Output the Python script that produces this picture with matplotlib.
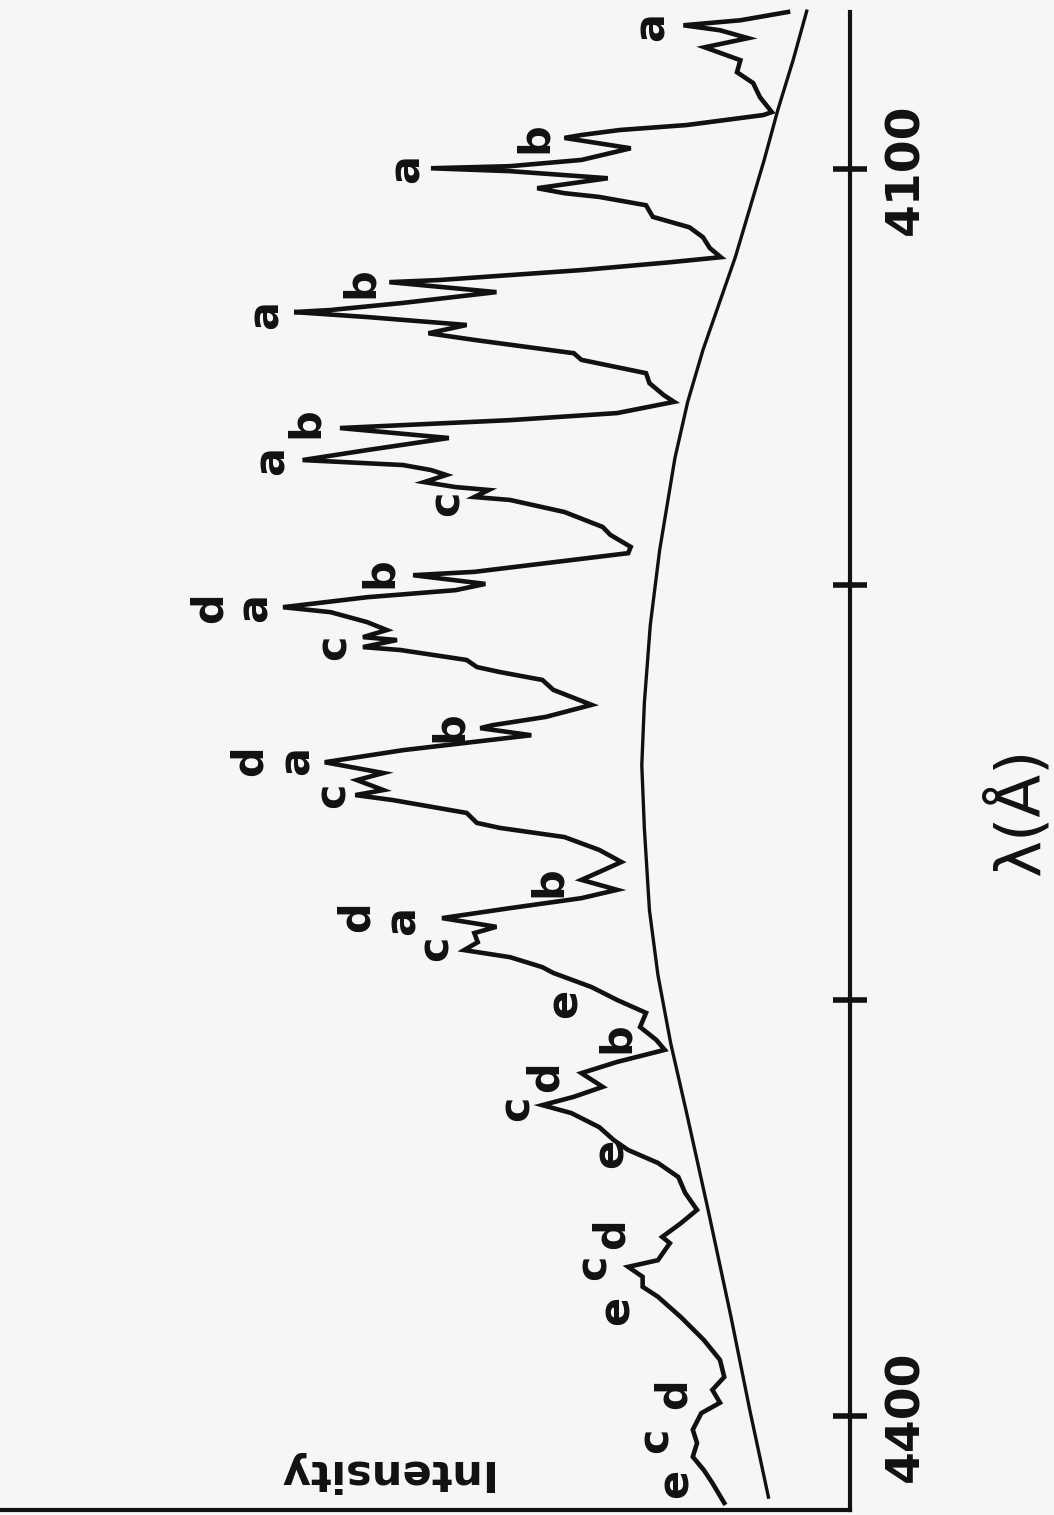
import matplotlib
matplotlib.use("Agg")
import matplotlib.pyplot as plt

# spectrum trace, wavelength (A) and intensity (arb.)
wavelength = [4062.2, 4064.2, 4065.4, 4066.6, 4068.5, 4070.7, 4073.8, 4076.7, 4079.3, 4082.7,
              4086.3, 4087.0, 4089.4, 4090.6, 4091.8, 4092.5, 4095.0, 4097.8, 4099.3, 4099.8,
              4100.5, 4102.2, 4104.6, 4105.8, 4106.7, 4108.7, 4111.5, 4114.0, 4116.4, 4119.0,
              4121.2, 4122.4, 4124.3, 4125.5, 4126.7, 4127.2, 4129.6, 4132.2, 4133.9, 4134.4,
              4135.6, 4137.5, 4139.5, 4141.1, 4144.3, 4145.9, 4149.1, 4151.5, 4154.4, 4156.0,
              4158.7, 4160.4, 4161.6, 4162.3, 4164.7, 4167.6, 4170.0, 4171.2, 4172.4, 4173.6,
              4175.3, 4176.5, 4177.2, 4178.9, 4179.6, 4182.5, 4186.1, 4188.0, 4190.9, 4192.4,
              4194.8, 4196.9, 4197.7, 4199.8, 4201.3, 4203.0, 4205.4, 4206.6, 4209.0, 4210.9,
              4212.6, 4213.3, 4215.0, 4215.7, 4218.1, 4219.8, 4221.0, 4222.9, 4225.3, 4228.9,
              4231.8, 4233.8, 4234.5, 4236.2, 4237.8, 4239.8, 4242.7, 4245.3, 4247.0, 4249.4,
              4250.6, 4251.8, 4254.9, 4257.3, 4258.5, 4260.7, 4263.8, 4266.7, 4269.1, 4271.0,
              4273.4, 4275.4, 4277.8, 4280.2, 4282.3, 4283.8, 4286.0, 4287.9, 4289.6, 4292.0,
              4293.4, 4296.8, 4299.9, 4303.0, 4306.4, 4309.5, 4311.9, 4314.8, 4317.5, 4320.8,
              4323.2, 4325.2, 4327.1, 4330.5, 4333.6, 4336.0, 4339.1, 4342.5, 4346.3, 4350.4,
              4353.6, 4356.9, 4358.4, 4362.5, 4364.1, 4366.5, 4368.9, 4371.3, 4376.2, 4381.7,
              4386.5, 4390.6, 4393.7, 4396.8, 4399.3, 4403.3, 4406.5, 4409.8, 4413.0, 4416.1,
              4420.9]
intensity = [7.3, 12.9, 19.6, 15.3, 12.0, 17.1, 12.9, 13.3, 11.4, 10.6,
             9.2, 10.2, 19.2, 27.1, 31.6, 33.6, 25.8, 31.6, 40.0, 49.3,
             40.0, 28.5, 36.8, 33.6, 29.5, 24.0, 23.2, 18.9, 17.3, 16.5,
             15.2, 21.1, 31.6, 40.0, 48.4, 54.2, 41.6, 52.6, 61.1, 65.4,
             56.8, 45.1, 49.6, 44.2, 32.5, 31.6, 24.0, 23.6, 21.9, 20.7,
             27.4, 40.0, 52.6, 60.0, 47.2, 56.8, 64.4, 52.6, 49.3, 47.5,
             50.1, 46.4, 42.5, 44.2, 40.0, 33.6, 29.1, 28.2, 25.8, 26.1,
             35.8, 44.2, 51.4, 42.9, 46.4, 56.8, 66.7, 61.1, 56.8, 54.5,
             57.3, 53.3, 57.3, 52.9, 45.1, 43.9, 41.2, 36.2, 34.9, 30.4,
             35.8, 42.1, 43.5, 37.5, 44.2, 52.6, 61.8, 54.9, 58.0, 54.9,
             58.2, 53.8, 45.1, 43.9, 41.2, 33.6, 29.5, 26.9, 29.5, 31.6,
             27.4, 31.6, 40.0, 48.0, 41.6, 44.2, 43.8, 45.4, 40.0, 36.2,
             34.9, 30.4, 27.4, 24.0, 24.7, 22.8, 21.8, 27.4, 31.6, 29.1,
             32.5, 36.2, 32.8, 29.5, 27.8, 26.1, 22.6, 20.2, 19.4, 18.0,
             19.9, 22.1, 21.2, 22.6, 26.1, 24.4, 24.4, 22.6, 19.9, 17.2,
             15.3, 14.8, 16.2, 15.3, 17.5, 18.5, 18.0, 18.5, 17.2, 16.2,
             14.8]

# smooth underlying curve
cont_wavelength = [4062.0, 4073.8, 4085.8, 4097.8, 4121.2, 4143.5, 4156.0, 4169.5, 4191.7, 4209.7,
                   4228.5, 4243.4, 4258.5, 4278.3, 4293.9, 4310.3, 4326.4, 4338.4, 4350.4, 4376.2,
                   4398.5, 4419.5]
cont_intensity = [5.1, 6.7, 8.5, 10.1, 13.5, 17.3, 19.1, 20.6, 22.4, 23.5,
                  24.2, 24.5, 24.2, 23.6, 22.6, 21.1, 19.3, 18.0, 16.7, 14.0,
                  11.8, 9.6]

# line identifications
peak_labels = ['a', 'b', 'a', 'b', 'a', 'b', 'a', 'c',
               'b', 'd', 'a', 'c', 'b', 'd', 'a', 'c',
               'b', 'd', 'a', 'c', 'e', 'b', 'd', 'c',
               'e', 'd', 'c', 'e', 'd', 'c', 'e']
label_wavelength = [4065.8, 4092.5, 4099.8, 4127.2, 4134.9, 4160.9, 4170.0, 4180.3,
                    4197.2, 4205.4, 4205.4, 4215.0, 4234.2, 4242.2, 4242.2, 4250.6,
                    4271.5, 4279.9, 4280.7, 4287.4, 4300.6, 4309.0, 4318.4, 4325.9,
                    4336.7, 4356.0, 4364.1, 4374.5, 4394.5, 4405.8, 4416.1]
label_intensity = [23.3, 37.1, 52.2, 57.6, 68.7, 64.0, 68.1, 47.5,
                   55.3, 75.3, 70.0, 60.8, 47.1, 70.6, 65.1, 60.9,
                   35.4, 58.1, 52.6, 48.8, 33.6, 27.4, 35.8, 39.2,
                   28.2, 28.0, 30.2, 27.5, 20.7, 22.9, 20.5]

ticks = [4100, 4200, 4300, 4400]
tick_text = ['4100', '', '', '4400']

ink = '#111111'
paper = '#f6f6f6'
plt.rcParams['font.family'] = ['DejaVu Sans']

fig = plt.figure(figsize=(10.54, 15.15), dpi=100, facecolor=paper)
ax = fig.add_axes([0.0, 0.0033, 0.8065, 0.9888], facecolor=paper)

# page is turned: wavelength runs down the right edge, intensity grows to the left
ax.plot(intensity, wavelength, color=ink, lw=3.3, solid_joinstyle='miter', clip_on=False)
ax.plot(cont_intensity, cont_wavelength, color=ink, lw=2.4, clip_on=False)

for t, w, i in zip(peak_labels, label_wavelength, label_intensity):
    ax.text(i, w, t, rotation=90, ha='center', va='center', fontsize=31,
            fontweight='bold', color=ink)

ax.set_xlim(100, 0)
ax.set_ylim(4422.6, 4062.2)

for side in ['left', 'top']:
    ax.spines[side].set_visible(False)
for side in ['right', 'bottom']:
    ax.spines[side].set_linewidth(3)
    ax.spines[side].set_color(ink)

ax.set_xticks([])
ax.yaxis.tick_right()
ax.set_yticks(ticks)
ax.set_yticklabels(tick_text, fontsize=34, fontweight='bold', color=ink)
ax.tick_params(axis='y', direction='inout', length=24, width=4, color=ink,
               pad=12, labelrotation=90)
for lab in ax.get_yticklabels():
    lab.set_va('center')

# axis titles, turned with the page
ax.text(1.198, 0.466, 'λ(Å)', transform=ax.transAxes, rotation=90,
        ha='center', va='center', fontsize=45, color=ink)
ax.text(54.9, 4413.4, 'Intensity', rotation=180, ha='center', va='center',
        fontsize=31, fontweight='bold', color=ink)

fig.savefig('out.png', dpi=100, facecolor=paper)
